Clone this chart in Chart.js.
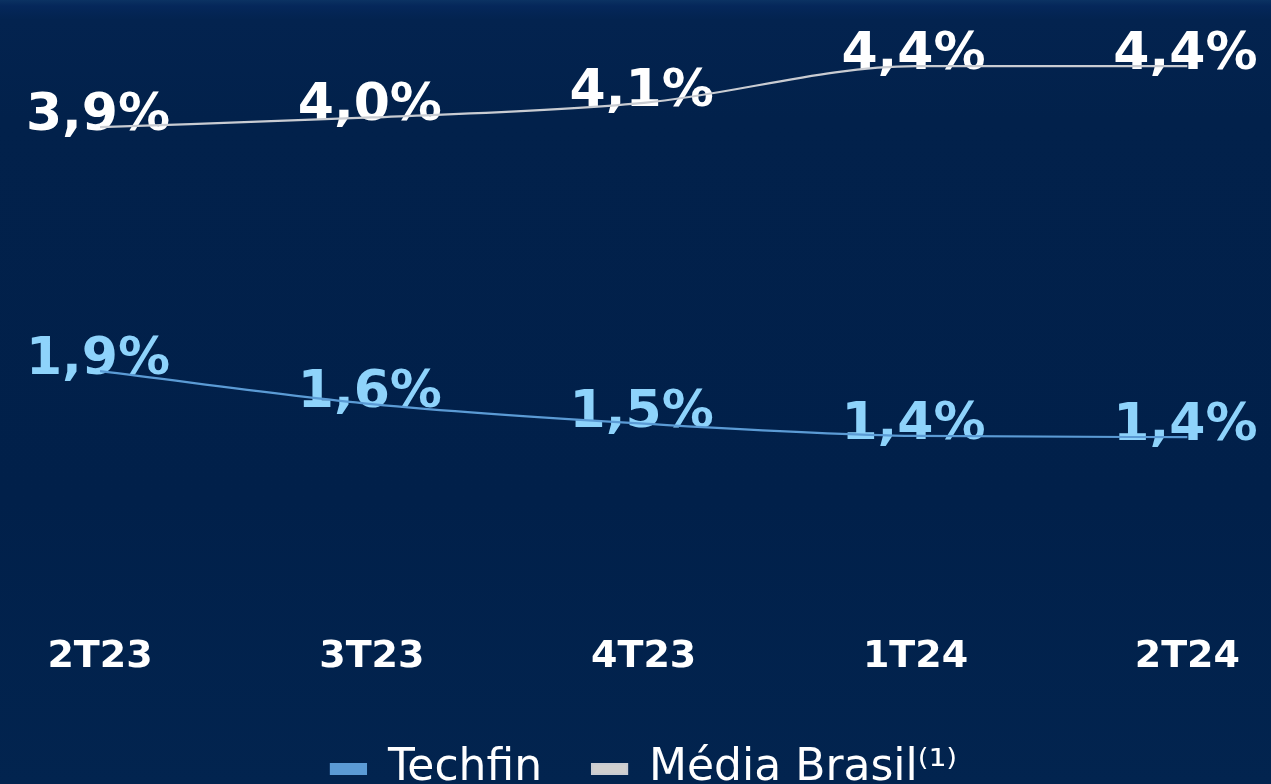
<!DOCTYPE html>
<html>
<head>
<meta charset="utf-8">
<script src="https://cdn.jsdelivr.net/npm/chart.js@4"></script>
<style>
  html, body { margin: 0; padding: 0; overflow: hidden; width: 1271px; height: 784px; }
  body {
    background: linear-gradient(180deg, #0b3262 0px, #05275a 6px, #03234f 20px, #02214b 120px, #01204a 500px, #02244f 784px);
  }
  #wrap { position: absolute; left: 0; top: 0; width: 1271px; height: 801px; }
</style>
</head>
<body>
<div id="wrap"><canvas id="c"></canvas></div>
<script>
const categories = ['2T23', '3T23', '4T23', '1T24', '2T24'];
const techfin = [1.9, 1.63, 1.47, 1.37, 1.36];
const mediaBrasil = [3.9, 3.98, 4.1, 4.4, 4.4];
const seriesNames = ['Techfin', 'Média Brasil⁽¹⁾'];

const labelPlugin = {
  id: 'valueLabels',
  beforeDatasetsDraw(chart) {
    const ctx = chart.ctx;
    ctx.save();
    ctx.font = 'bold 52px "DejaVu Sans"';
    ctx.textAlign = 'center';
    ctx.textBaseline = 'alphabetic';
    chart.data.datasets.forEach((ds, di) => {
      const meta = chart.getDatasetMeta(di);
      ctx.fillStyle = ds.labelColor;
      meta.data.forEach((pt, i) => {
        const txt = ds.data[i].toFixed(1).replace('.', ',') + '%';
        ctx.fillText(txt, pt.x - 2, pt.y + 3);
      });
    });
    ctx.restore();
  }
};

new Chart(document.getElementById('c'), {
  type: 'line',
  data: {
    labels: categories,
    datasets: [
      {
        label: seriesNames[0],
        data: techfin,
        borderColor: '#5b9bd5',
        backgroundColor: '#5b9bd5',
        borderWidth: 2.2,
        pointRadius: 0,
        cubicInterpolationMode: 'monotone',
        labelColor: '#8ed3fb'
      },
      {
        label: seriesNames[1],
        data: mediaBrasil,
        borderColor: '#c9ccd2',
        backgroundColor: '#d0d0d0',
        borderWidth: 2.2,
        pointRadius: 0,
        cubicInterpolationMode: 'monotone',
        labelColor: '#ffffff'
      }
    ]
  },
  options: {
    responsive: true,
    maintainAspectRatio: false,
    animation: false,
    layout: { padding: { left: 100, right: 83, top: 4 } },
    plugins: {
      tooltip: { enabled: false },
      legend: {
        position: 'bottom',
        labels: {
          boxWidth: 35,
          boxHeight: 10,
          padding: 50,
          color: '#ffffff',
          font: { family: '"DejaVu Sans"', size: 44 }
        }
      }
    },
    scales: {
      x: {
        offset: false,
        grid: { display: false, drawTicks: false },
        border: { display: false },
        ticks: {
          color: '#ffffff',
          padding: 31,
          font: { family: '"DejaVu Sans"', size: 38, weight: 'bold' }
        },
        afterFit: (scale) => { scale.height = 94; }
      },
      y: {
        display: false,
        min: 0,
        max: 4.91
      }
    }
  },
  plugins: [labelPlugin]
});
</script>
</body>
</html>
